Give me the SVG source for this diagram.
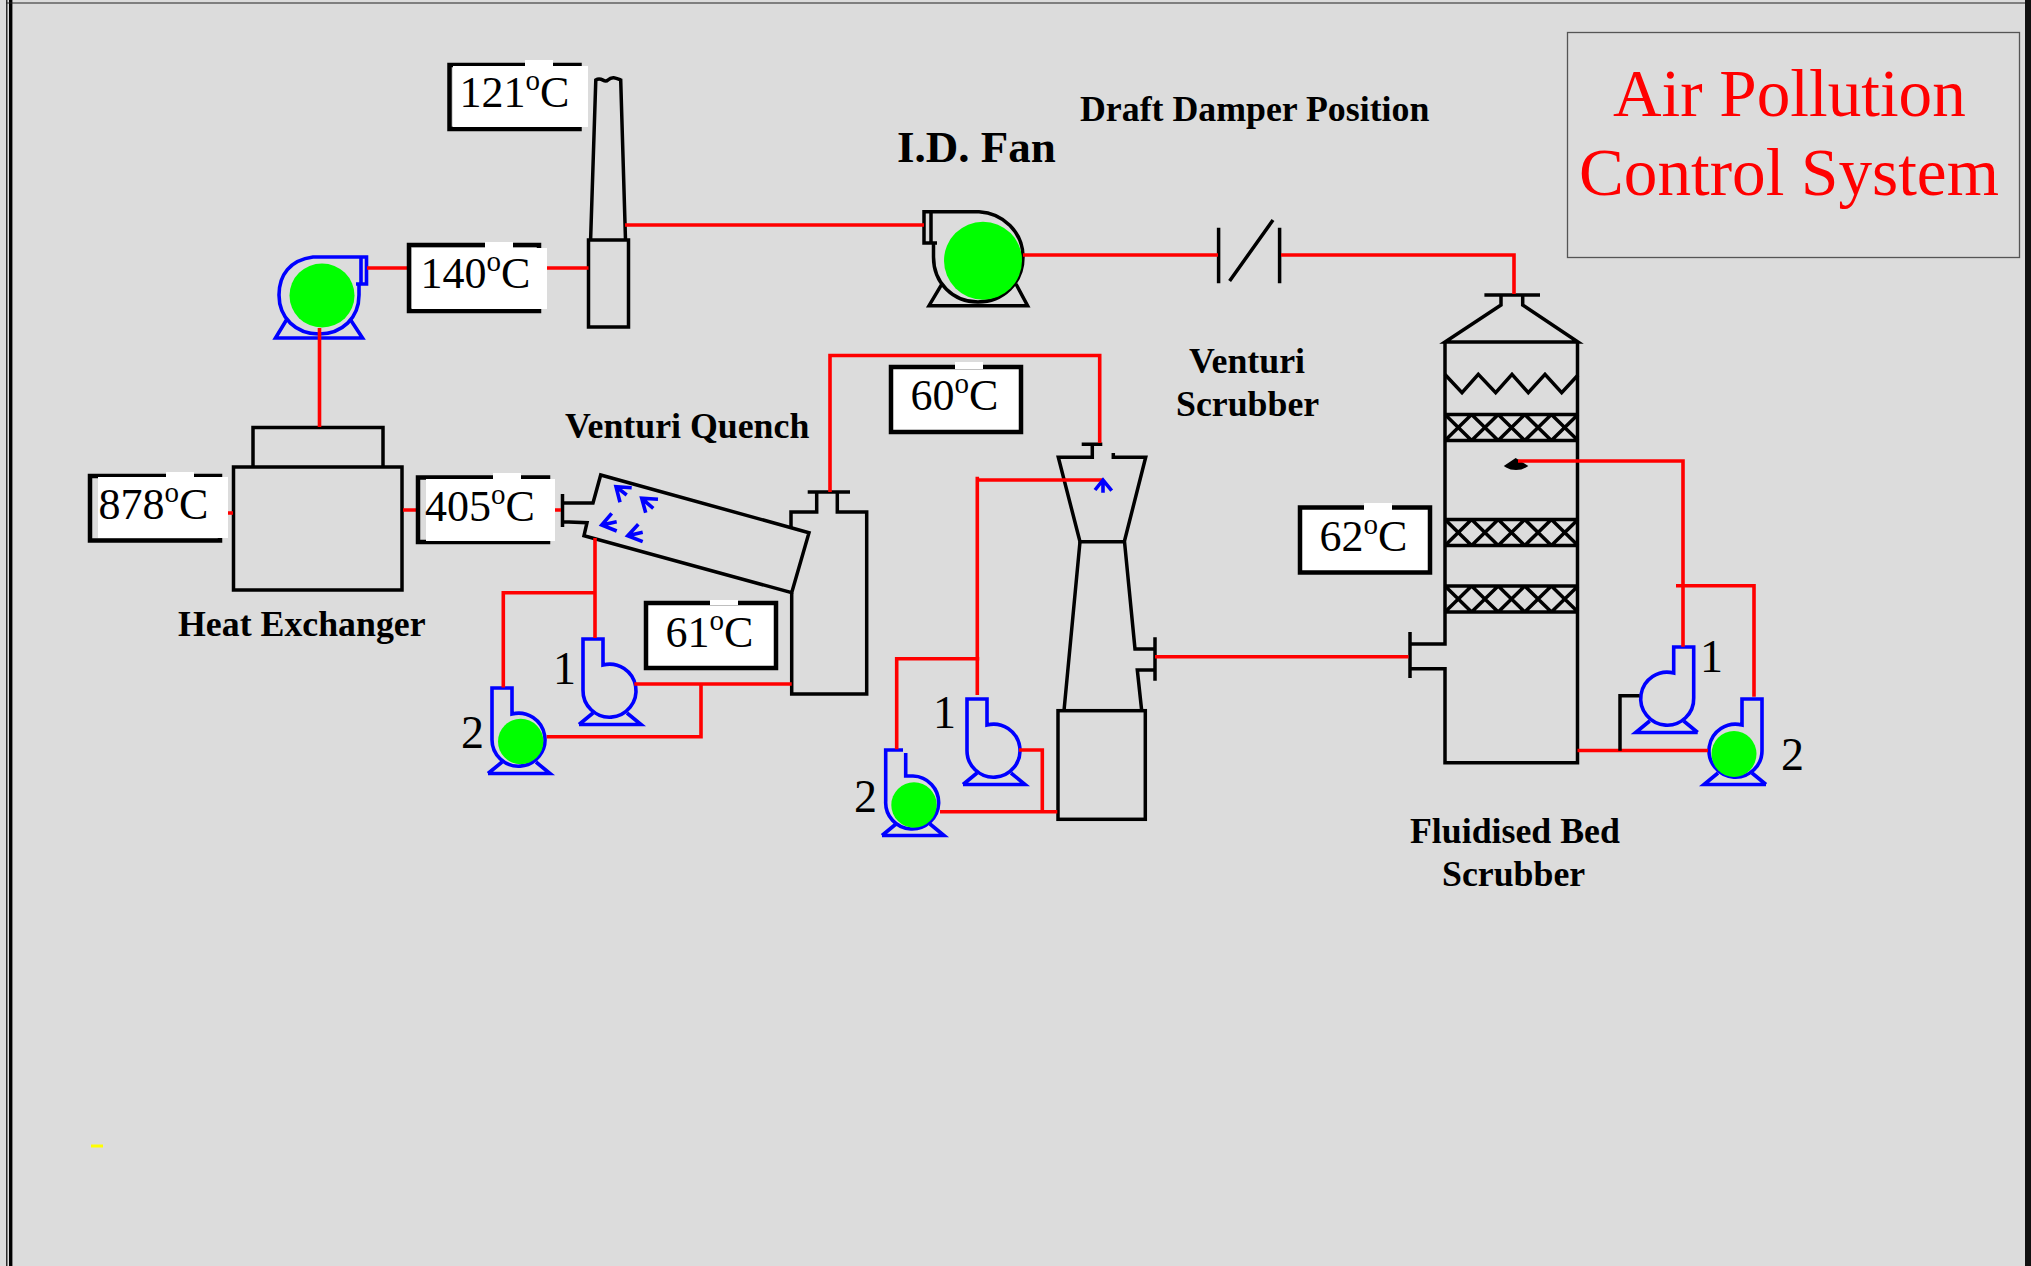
<svg xmlns="http://www.w3.org/2000/svg" xmlns:xlink="http://www.w3.org/1999/xlink" width="2031" height="1266" viewBox="0 0 2031 1266">
<style>
text{font-family:"Liberation Serif","Times New Roman",serif;fill:#000}
.k{fill:none;stroke:#000;stroke-width:3.5;stroke-linejoin:miter}
.r{fill:none;stroke:#f00;stroke-width:3.6}
.b{fill:none;stroke:#00f;stroke-width:3.6}
.g{fill:#0f0;stroke:none}
.w{fill:#fff;stroke:none}
.bx{fill:none;stroke:#000;stroke-width:4.500}
.t{font-size:44px}
.s{font-size:29px}
.n{font-size:46px}
.l{font-size:35.800px;font-weight:bold}
.h{font-size:67.200px;fill:#f00}
</style>
<defs>
<g id="pump"><path d="M-27,0V-51H-7V-25A26.500,26.500 0 1 1 -27,0"/><path d="M-31,34.500H31L17,23M-31,34.500L-17,23"/></g>
<g id="pack"><path d="M0,0H133M0,26H133M0,0L26.600,26M26.600,0L0,26M26.600,0L53.200,26M53.200,0L26.600,26M53.200,0L79.800,26M79.800,0L53.200,26M79.800,0L106.400,26M106.400,0L79.800,26M106.400,0L133,26M133,0L106.400,26"/></g>
</defs>
<rect width="2031" height="1266" fill="#dcdcdc"/>
<g id="frame">
<path d="M6.800,0V1266" stroke="#000" stroke-width="1.200"/>
<path d="M10.700,0V1266" stroke="#000" stroke-width="3.400"/>
<path d="M6,3H2026" stroke="#222" stroke-width="1.200"/>
<rect x="2025" y="0" width="6" height="1266" fill="#111"/>
<rect x="91" y="1144.500" width="12" height="3" fill="#ff0"/>
</g>
<g id="stack" class="k">
<path d="M590.600,240L595.800,80C602,76 604,84 608,80C612,76 616,78 620.700,80L625.500,240"/>
<rect x="588.500" y="240" width="40" height="87"/>
</g>
<g id="fan-left" class="b">
<path d="M356,284H366.500V257H313C290,260 279,275 279,295C279,318 296,334 319,334C342,334 359,318 359,295V284"/>
<path d="M361,257V284M287,319L275.500,338H362.500L350,319"/>
<ellipse class="g" cx="322" cy="295.500" rx="32.500" ry="32"/>
</g>
<g id="heat-exchanger" class="k">
<rect x="233.500" y="467" width="168.500" height="123"/>
<path d="M253,467V427.500H383V467"/>
</g>
<g id="venturi-quench" class="k">
<path d="M562.500,494V527M562.500,503H593L600.700,475L809,532.700L791.700,592.700L584,535.700L587,522.700L562.500,521.700"/>
<path d="M791.700,592.700V694H866.700V512H837.300V493M807.700,492H850M816.700,493V512H791V527"/>
</g>
<g id="quench-pump-1" class="b"><use href="#pump" transform="translate(610,690)"/></g>
<g id="quench-pump-2" class="b"><use href="#pump" transform="translate(519,739)"/><circle class="g" cx="520.700" cy="741.500" r="22.700"/></g>
<g id="id-fan" class="k">
<path d="M937,243H924V211.700H979C1003,213 1023,232 1023,257C1023,283 1003,302 978,302C953,302 933.500,283 933.500,257V243"/>
<path d="M931,212V243M941.700,284.300L929,305.700H1027.600L1016,284"/>
<ellipse class="g" cx="983" cy="260.700" rx="39" ry="39"/>
</g>
<g id="draft-damper" class="k"><path d="M1218.600,227.700V283.300M1279.600,227.700V283.300M1273,220L1229.600,281"/></g>
<g id="venturi-scrubber" class="k">
<path d="M1081.700,444.300H1102.300M1092.300,444.300V457.300H1058.300L1080,541.700H1124.300L1145.700,457.300H1113.300V453"/>
<path d="M1080,541.700L1064,710.700M1124.500,541.700L1135,649H1155M1155,637.300V680.700M1155,670H1137.300L1141.700,710.700"/>
<rect x="1058" y="710.700" width="87.300" height="108.600"/>
</g>
<g id="venturi-pump-1" class="b"><use href="#pump" transform="translate(994,750)"/></g>
<g id="venturi-pump-2" class="b"><path d="M885.700,801V750H903M905.700,753V776H913A26.500,26.500 0 1 1 885.700,801M882,835.500H944L930,824M882,835.500L896,824"/><circle class="g" cx="914" cy="805" r="22.700"/></g>
<g id="fluidised-bed-scrubber" class="k">
<path d="M1484.400,295H1540M1501,295V305L1445,342H1578L1522.700,305V295"/>
<path d="M1445,342V644H1410M1410,632V678M1410,668.700H1445V762.700H1577.500V342"/>
<path d="M1445,374.500L1462,392.700L1478.300,374.300L1495.700,392.700L1512,374.300L1528.300,392.700L1545,374.300L1561.700,392.700L1578,375"/>
<use href="#pack" transform="translate(1445,414.500)"/>
<use href="#pack" transform="translate(1445,519.500)"/>
<use href="#pack" transform="translate(1445,586)"/>
<path d="M1507,466L1515.700,460L1525,466C1520,469 1512,469 1507,466Z" fill="#000"/>
</g>
<g id="scrubber-pump-1" class="b"><use href="#pump" transform="translate(1666.700,698) scale(-1,1)"/></g>
<g id="scrubber-pump-2" class="b"><use href="#pump" transform="translate(1735,750) scale(-1,1)"/><ellipse class="g" cx="1734" cy="754" rx="22.500" ry="23"/></g>
<g id="connectors">
<path class="r" d="M625,225H924M367,268H409M547,268H588.500M319.500,328V427"/>
<path class="r" d="M228,513H233M403,510H417M555,510H561"/>
<path class="r" d="M595,538V638M595,592.700H503.300V687.500M634.300,684H791.700M701,684V736.700H546.700"/>
<path class="r" d="M830,492V355.500H1099.700V443"/>
<path class="r" d="M977.300,476.700V695M977.300,480H1103.300M979.300,658.700H896.700V749.300M1019,750H1042.300V811.700M940,811.700H1057.300"/>
<path class="r" d="M1155,656.700H1408.500"/>
<path class="r" d="M1023,255H1218M1281,255H1514V294"/>
<path class="r" d="M1518,461H1683V646.700M1676,585.700H1754V696.700M1577.500,750.500H1708"/>
<path d="M1620,750.700V695.700H1639.500" class="k"/>
</g>
<g id="spray-arrows" class="b">
<path d="M631.700,487.700L616,486.700L620,502.300M616,486.700L626.700,495"/>
<path d="M658,499.300L641.700,498.300L645.700,512.700M641.700,498.300L653.300,508.300"/>
<path d="M611.700,513.300L601.700,525L616.700,531M601.700,525L616.700,521.700"/>
<path d="M638.300,524.300L627.700,535.700L642.700,541.700M627.700,535.700L642.700,532.300"/>
<path d="M1103,492.700V480M1095,490L1103,480L1111.700,490.700"/>
</g>
<g id="temp-121"><rect class="bx" x="449.500" y="65" width="130" height="64"/><rect class="w" x="453" y="66" width="135" height="61"/><rect class="w" x="525" y="60" width="28" height="6"/><text class="t" x="459.500" y="107">121<tspan class="s" dy="-17">o</tspan><tspan dy="17">C</tspan></text></g>
<g id="temp-140"><rect class="bx" x="409" y="245" width="130" height="66"/><rect class="w" x="412" y="248" width="135" height="61"/><rect class="w" x="485" y="242" width="28" height="6"/><text class="t" x="420.500" y="288">140<tspan class="s" dy="-17">o</tspan><tspan dy="17">C</tspan></text></g>
<g id="temp-878"><rect class="bx" x="90" y="476" width="130" height="64.500"/><rect class="w" x="98" y="477" width="130" height="61"/><rect class="w" x="166" y="472" width="28" height="6"/><text class="t" x="98.500" y="519">878<tspan class="s" dy="-17">o</tspan><tspan dy="17">C</tspan></text></g>
<g id="temp-405"><rect class="bx" x="418" y="477.500" width="130" height="64.500"/><rect class="w" x="426" y="479" width="129" height="62"/><rect class="w" x="493" y="473" width="28" height="6"/><text class="t" x="425" y="521">405<tspan class="s" dy="-17">o</tspan><tspan dy="17">C</tspan></text></g>
<g id="temp-61"><rect class="w" x="646" y="602" width="130" height="66"/><rect class="bx" x="646" y="603" width="130" height="65"/><rect class="w" x="710" y="600" width="28" height="5"/><text class="t" x="665.500" y="646.700">61<tspan class="s" dy="-17">o</tspan><tspan dy="17">C</tspan></text></g>
<g id="temp-60"><rect class="w" x="891" y="366" width="130" height="66"/><rect class="bx" x="891" y="367" width="130" height="65"/><rect class="w" x="955" y="362" width="28" height="7"/><text class="t" x="910.500" y="410">60<tspan class="s" dy="-17">o</tspan><tspan dy="17">C</tspan></text></g>
<g id="temp-62"><rect class="w" x="1299" y="507" width="130" height="66"/><rect class="bx" x="1300" y="507.500" width="130" height="65"/><rect class="w" x="1364" y="503" width="28" height="7"/><text class="t" x="1319.500" y="550.700">62<tspan class="s" dy="-17">o</tspan><tspan dy="17">C</tspan></text></g>
<g id="labels">
<text class="l" x="178" y="636">Heat Exchanger</text>
<text class="l" x="565" y="438">Venturi Quench</text>
<text class="l" x="1080" y="121">Draft Damper Position</text>
<text class="l" style="font-size:45px" x="897" y="162">I.D. Fan</text>
<text class="l" x="1189" y="373">Venturi</text>
<text class="l" x="1176" y="416">Scrubber</text>
<text class="l" x="1410" y="843">Fluidised Bed</text>
<text class="l" x="1442" y="886">Scrubber</text>
<text class="n" x="553" y="683.500">1</text>
<text class="n" x="461" y="747.500">2</text>
<text class="n" x="933" y="728">1</text>
<text class="n" x="854" y="811.500">2</text>
<text class="n" x="1700" y="671.500">1</text>
<text class="n" x="1781" y="770">2</text>
</g>
<g id="title">
<rect x="1567.500" y="32.500" width="452" height="225" fill="none" stroke="#555" stroke-width="1.300"/>
<text class="h" x="1613" y="116">Air Pollution</text>
<text class="h" x="1579" y="195">Control System</text>
</g>
</svg>
